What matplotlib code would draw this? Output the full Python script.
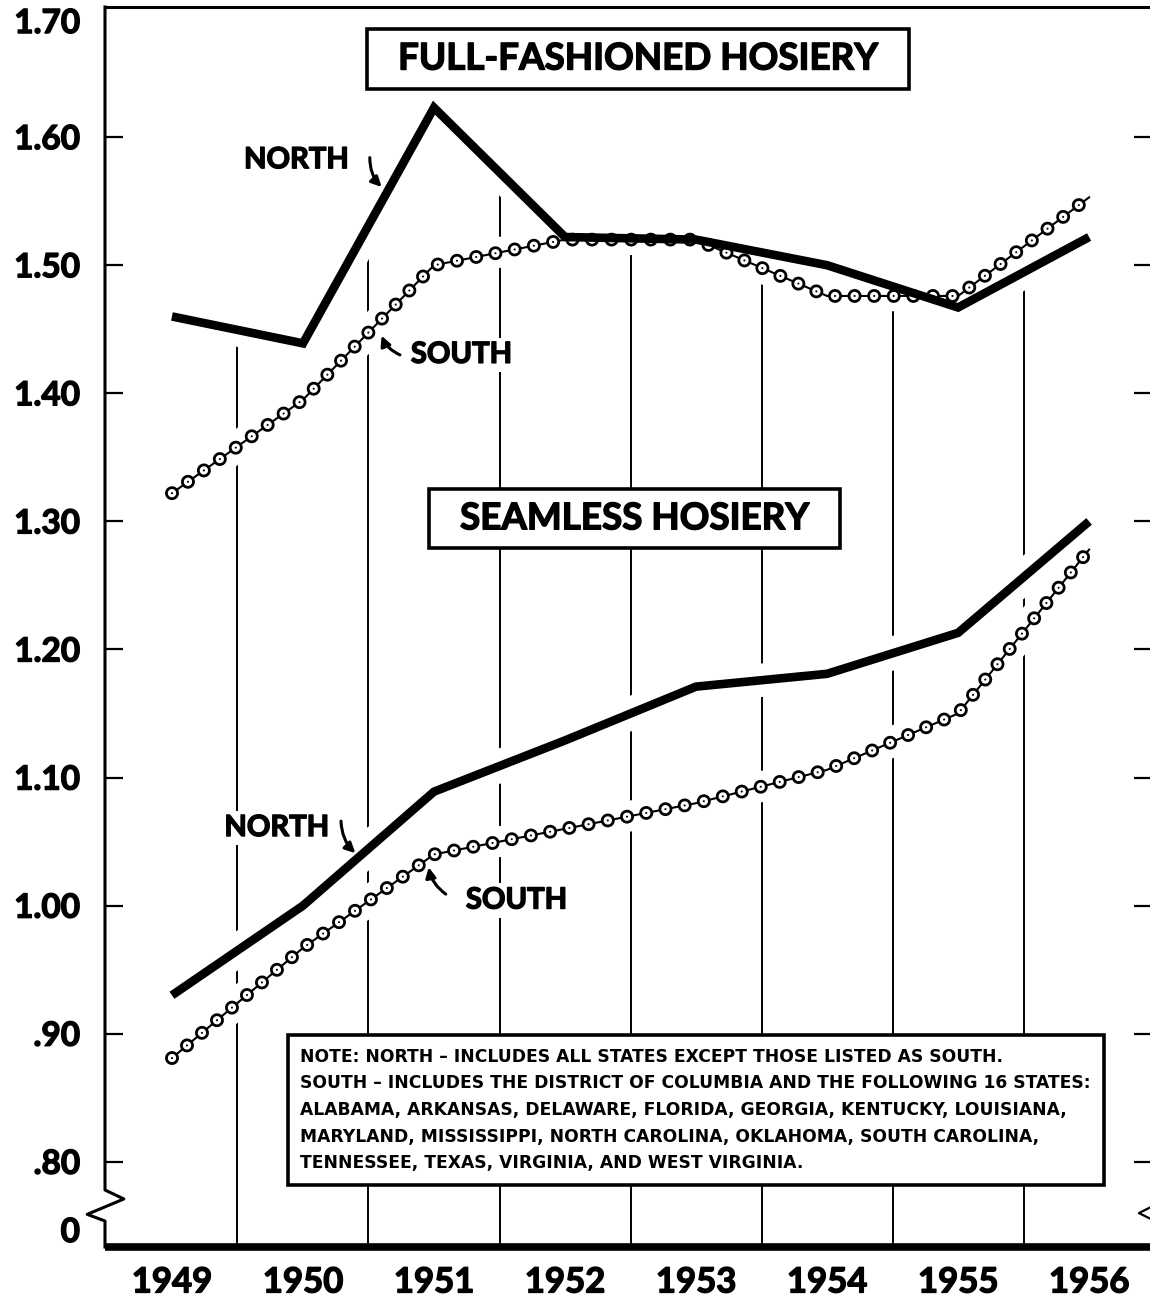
import numpy as np
import matplotlib.pyplot as plt
import matplotlib.patheffects as pe

# hourly earnings, north vs south, hosiery industry
years = [1949, 1950, 1951, 1952, 1953, 1954, 1955, 1956]
ff_north = [1.46, 1.439, 1.623, 1.522, 1.52, 1.50, 1.467, 1.522]
ff_south = [1.322, 1.395, 1.50, 1.52, 1.52, 1.476, 1.476, 1.553]
sm_north = [0.93, 1.00, 1.089, 1.129, 1.171, 1.181, 1.213, 1.30]
sm_south = [0.881, 0.967, 1.04, 1.06, 1.08, 1.106, 1.15, 1.278]

ytick_vals = [0.80, 0.90, 1.00, 1.10, 1.20, 1.30, 1.40, 1.50, 1.60]
ytick_labels = ['.80', '.90', '1.00', '1.10', '1.20', '1.30', '1.40', '1.50', '1.60']
year_labels = ['1949', '1950', '1951', '1952', '1953', '1954', '1955', '1956']

note = ("NOTE: NORTH \u2013 INCLUDES ALL STATES EXCEPT THOSE LISTED AS SOUTH.\n"
        "SOUTH \u2013 INCLUDES THE DISTRICT OF COLUMBIA AND THE FOLLOWING 16 STATES:\n"
        "ALABAMA, ARKANSAS, DELAWARE, FLORIDA, GEORGIA, KENTUCKY, LOUISIANA,\n"
        "MARYLAND, MISSISSIPPI, NORTH CAROLINA, OKLAHOMA, SOUTH CAROLINA,\n"
        "TENNESSEE, TEXAS, VIRGINIA, AND WEST VIRGINIA.")

plt.rcParams['lines.scale_dashes'] = False
plt.rcParams['font.family'] = ['Lato', 'DejaVu Sans']
thick = [pe.withStroke(linewidth=1.0, foreground='black')]

Y0, Y1 = 0.7335, 1.7016
fig = plt.figure(figsize=(11.5, 12.97), dpi=100)
ax = fig.add_axes([105 / 1150, 50 / 1297, 1047 / 1150, 1240 / 1297])
ax.set_xlim(1948.489, 1956.48)
ax.set_ylim(Y0, Y1)


def chain(x, y):
    # open-circle "bead" line
    ax.plot(x, y, color='white', lw=22, zorder=1.5, solid_capstyle='butt')
    ax.plot(x, y, color='black', lw=1.5, zorder=3)
    dots = dict(linestyle=(0, (0.1, 14.0)), dash_capstyle='round')
    ax.plot(x, y, color='black', lw=10.0, zorder=3.1, **dots)
    ax.plot(x, y, color='white', lw=6.0, zorder=3.2, **dots)
    ax.plot(x, y, color='black', lw=1.5, zorder=3.3, **dots)


def heavy(x, y):
    ax.plot(x, y, color='white', lw=24, zorder=1.5, solid_capstyle='butt')
    ax.plot(x, y, color='black', lw=6.2, zorder=4,
            solid_joinstyle='miter', solid_capstyle='butt')


# vertical separators between years, stopping just under the top curve
mids = np.array(years[:-1]) + 0.5
tops = np.maximum(np.interp(mids, years, ff_north), np.interp(mids, years, ff_south)) - 0.008
ax.vlines(mids, Y0, tops, color='black', lw=1.4, zorder=1)

chain(years, ff_south)
chain(years, sm_south)
heavy(years, ff_north)
heavy(years, sm_north)

# spines and broken axis
for s in ['left', 'right']:
    ax.spines[s].set_visible(False)
ax.spines['top'].set_linewidth(2.2)
ax.spines['bottom'].set_linewidth(5.5)
ax.spines['bottom'].set_capstyle('butt')
yt = ax.get_yaxis_transform()
ax.plot([0, 0, 0.018, -0.017, 0, 0], [Y1, 0.778, 0.771, 0.759, 0.7538, Y0],
        transform=yt, color='black', lw=2.2, clip_on=False, zorder=5)
ax.plot([0.999, 0.9875, 0.999], [0.7647, 0.760, 0.7553],
        transform=yt, color='black', lw=1.6, clip_on=False, zorder=5)

ax.set_yticks([Y0] + ytick_vals + [1.70])
ax.set_yticklabels(['0'] + ytick_labels + ['1.70'])
ax.tick_params(axis='y', which='both', direction='in', length=13, width=1.6,
               left=True, right=True, pad=18, labelsize=24)
for lab in ax.get_yticklabels():
    lab.set_fontweight('bold')
    lab.set_path_effects(thick)
ax.get_yticklabels()[0].set_va('bottom')
ax.get_yticklabels()[-1].set_va('top')
yticks = ax.yaxis.get_major_ticks()
for t in (yticks[0], yticks[-1]):
    t.tick1line.set_visible(False)
    t.tick2line.set_visible(False)

ax.set_xticks(years)
ax.set_xticklabels(year_labels, fontsize=25, fontweight='bold')
for lab in ax.get_xticklabels():
    lab.set_path_effects(thick)
ax.tick_params(axis='x', length=0, pad=14)

# titles
box = dict(boxstyle='square,pad=0.85', mutation_aspect=0.42,
           fc='white', ec='black', lw=2.6)
ax.text(1952.557, 1.661, 'FULL-FASHIONED HOSIERY', ha='center', va='center',
        fontsize=26.5, fontweight='bold', bbox=box, zorder=6, path_effects=thick)
ax.text(1952.53, 1.302, 'SEAMLESS HOSIERY', ha='center', va='center',
        fontsize=26.5, fontweight='bold', bbox=box, zorder=6, path_effects=thick)

# series labels
lab = dict(fontsize=21, fontweight='bold', ha='center', va='center', zorder=6,
           path_effects=thick,
           bbox=dict(boxstyle='square,pad=0.15', fc='white', ec='none'))
arr = dict(arrowstyle='-|>', color='black', lw=2.2, mutation_scale=15,
           shrinkA=0, shrinkB=0)
ax.text(1949.95, 1.582, 'NORTH', **lab)
ax.annotate('', xy=(1950.60, 1.561), xytext=(1950.51, 1.584),
            arrowprops=dict(connectionstyle='arc3,rad=0.2', **arr), zorder=6)
ax.text(1951.21, 1.430, 'SOUTH', **lab)
ax.annotate('', xy=(1950.60, 1.445), xytext=(1950.74, 1.430),
            arrowprops=dict(connectionstyle='arc3,rad=-0.2', **arr), zorder=6)
ax.text(1949.80, 1.0606, 'NORTH', **lab)
ax.annotate('', xy=(1950.40, 1.041), xytext=(1950.29, 1.066),
            arrowprops=dict(connectionstyle='arc3,rad=0.2', **arr), zorder=6)
ax.text(1951.63, 1.004, 'SOUTH', **lab)
ax.annotate('', xy=(1950.96, 1.030), xytext=(1951.09, 1.009),
            arrowprops=dict(connectionstyle='arc3,rad=-0.2', **arr), zorder=6)

# note box
ax.text(1949.98, 0.8405, note, ha='left', va='center', fontsize=12.3,
        fontweight='bold', family='DejaVu Sans', linespacing=1.62, zorder=6,
        bbox=dict(boxstyle='square,pad=0.75', fc='white', ec='black', lw=2.6))

fig.savefig('out.png', dpi=100)
